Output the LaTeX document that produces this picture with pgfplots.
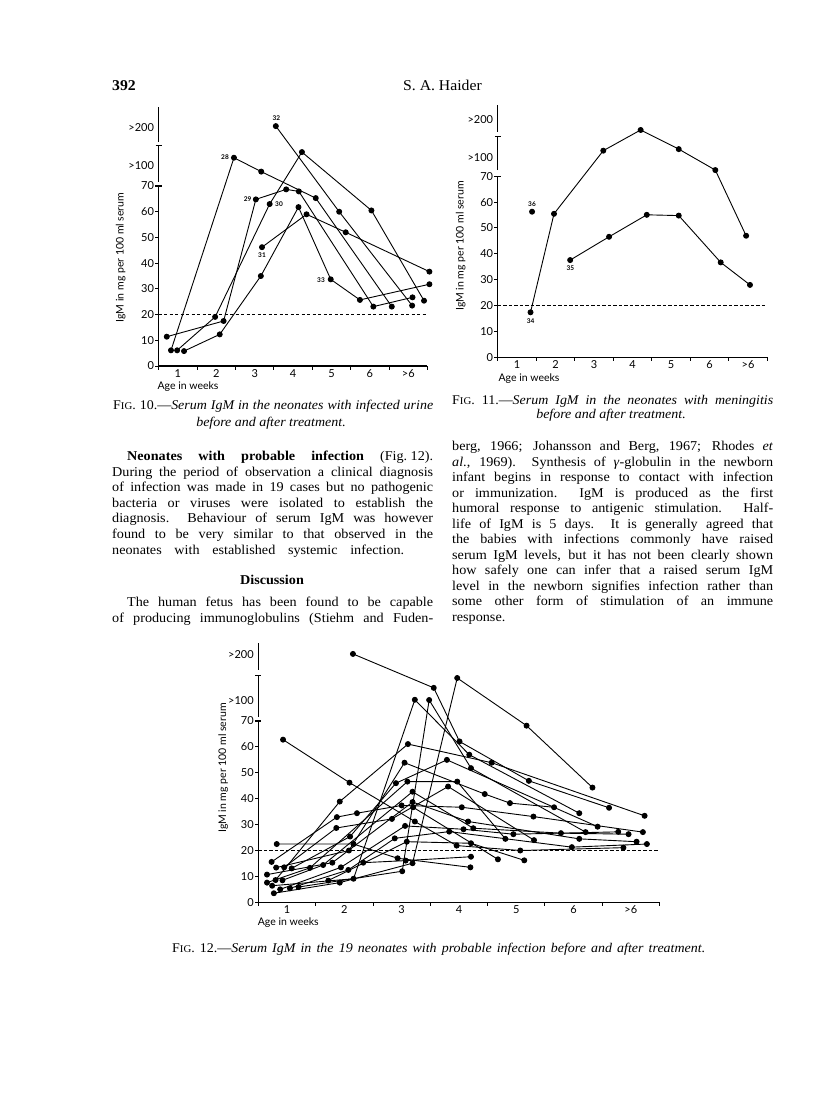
\documentclass[border=0pt]{standalone}
\usepackage{fontspec}
\setmainfont{Liberation Serif}[FakeStretch=1.05]
\newfontfamily\gill{Lato}
\usepackage{pgfplots}
\pgfplotsset{compat=1.18}
\newcommand\body{\fontsize{13.5}{15.5}\selectfont}
\newcommand\capf{\fontsize{13.3}{15}\selectfont}
\newcommand\FIGn[1]{F{\fontsize{10.3}{10}\selectfont IG}. #1.—}
\newcommand\jl[2]{\makebox[#1pt][s]{#2}}
\pgfplotsset{
 pt/.style={black, solid, line width=0.9pt, mark=*, mark size=2.5pt, mark options={solid, fill=black}},
 igm/.style={
  scale only axis, enlargelimits=false, clip=false,
  xmin=0.5, xmax=7.5, ymin=0, ymax=101,
  axis line style={draw=none}, tick style={draw=none}, major tick length=0pt,
  xtick={1,2,3,4,5,6,7}, xticklabels={1,2,3,4,5,6,{>6}},
  every tick label/.append style={font=\gill\fontsize{11}{11}\selectfont},
  yticklabel style={inner sep=1pt, xshift=-3.5pt},
  xticklabel style={inner sep=1pt, yshift=-2.5pt},
 }}
\newcommand\igmframe[4]{%
 \draw[line width=1.1pt] (axis cs:0.5,0) -- (axis cs:7.5,0);
 \draw[line width=1.3pt] (axis cs:0.5,0) -- (axis cs:0.5,70);
 \draw[line width=1.1pt] ([xshift=-3.5pt]axis cs:0.5,70) -- ([xshift=3pt]axis cs:0.5,70);
 \draw[line width=1.3pt] (axis cs:0.5,#1) -- (axis cs:0.5,#2);
 \draw[line width=1.1pt] ([xshift=-3pt]axis cs:0.5,#2) -- ([xshift=3pt]axis cs:0.5,#2);
 \draw[line width=1.3pt] (axis cs:0.5,#3) -- (axis cs:0.5,#4);
 \pgfplotsinvokeforeach{0,10,20,30,40,50,60}{\draw[line width=1pt] (axis cs:0.5,##1) -- ([xshift=-3.5pt]axis cs:0.5,##1);}
 \pgfplotsinvokeforeach{0.5,1.5,2.5,3.5,4.5,5.5,6.5,7.5}{\draw[line width=0.9pt] (axis cs:##1,0) -- ([yshift=-3.5pt]axis cs:##1,0);}
 \addplot[black, mark=none, line width=0.8pt, dash pattern=on 3.2pt off 2.3pt] coordinates {(0.5,20) (7.5,20)};
}
\begin{document}
\begin{tikzpicture}[x=1pt,y=1pt]
\path[use as bounding box, fill=white] (0,0) rectangle (816,-1117);
% header
\node[anchor=base west, inner sep=0pt, font=\fontsize{15}{15}\selectfont\bfseries] at (112,-90) {392};
\node[anchor=base, inner sep=0pt, font=\fontsize{15}{15}\selectfont] at (442.5,-90) {S. A. Haider};

% ---------------- Fig 10 ----------------
\begin{axis}[igm, at={(158.7pt,-366pt)}, anchor=south west, width=268.8pt, height=259.7pt,
  ytick={0,10,20,30,40,50,60,70,77.8,92.6},
  yticklabels={0,10,20,30,40,50,60,70,{>100},{>200}}]
\igmframe{71.7}{85.6}{87.2}{100.8}
% 28
\addplot[pt] coordinates {(0.82,6.1) (2.46,81.0) (3.17,75.6) (4.59,65.3) (6.57,23.1)};
% 29
\addplot[pt] coordinates {(0.71,11.4) (2.19,17.5) (3.03,64.8) (3.82,68.7) (4.15,67.9) (6.09,23.1) (7.11,26.7)};
% 30
\addplot[pt] coordinates {(0.98,6.1) (1.97,19.1) (3.39,63.0) (4.23,83.2) (6.04,60.5) (7.41,25.4)};
% 31
\addplot[pt] coordinates {(3.19,46.2) (4.35,59.0) (5.37,52.0) (7.55,36.7)};
% 32
\addplot[pt] coordinates {(3.55,93.3) (5.2,60.0) (7.1,23.5)};
% 33
\addplot[pt] coordinates {(1.16,5.8) (2.09,12.3) (3.16,35.0) (4.14,61.8) (4.98,33.7) (5.74,25.7) (7.55,31.8)};
\end{axis}
\begin{scope}[every node/.style={font=\gill\bfseries\fontsize{6.5}{7}\selectfont, inner sep=0pt}]
\node at (276.3,-117.7) {32};
\node at (225,-157.3) {28};
\node at (247.7,-199.3) {29};
\node at (279,-204.3) {30};
\node at (262,-255) {31};
\node at (321,-280) {33};
\end{scope}
\node[rotate=90, font=\gill\fontsize{10.5}{11}\selectfont] at (120.7,-257.5) {IgM in mg per 100 ml serum};
\node[font=\gill\fontsize{10.5}{11}\selectfont] at (188,-386.7) {Age in weeks};

% ---------------- Fig 11 ----------------
\begin{axis}[igm, at={(497.8pt,-357.3pt)}, anchor=south west, width=269.5pt, height=261.2pt,
  ytick={0,10,20,30,40,50,60,70,77.3,92.1},
  yticklabels={0,10,20,30,40,50,60,70,{>100},{>200}}]
\igmframe{72.4}{85.3}{87.2}{97.6}
% 34
\addplot[pt] coordinates {(1.35,17.4) (1.96,55.5) (3.24,79.9) (4.21,87.9) (5.2,80.5) (6.15,72.4) (6.95,47.0)};
% 35
\addplot[pt] coordinates {(2.38,37.6) (3.39,46.6) (4.37,55.1) (5.2,54.8) (6.29,36.7) (7.05,28.0)};
% 36
\addplot[pt] coordinates {(1.39,56.3)};
\end{axis}
\begin{scope}[every node/.style={font=\gill\bfseries\fontsize{6.5}{7}\selectfont, inner sep=0pt}]
\node at (532,-204) {36};
\node at (570.3,-268) {35};
\node at (530.7,-321) {34};
\end{scope}
\node[rotate=90, font=\gill\fontsize{10.5}{11}\selectfont] at (460.7,-246) {IgM in mg per 100 ml serum};
\node[font=\gill\fontsize{10.5}{11}\selectfont] at (529,-378.3) {Age in weeks};

% ---------------- Fig 12 ----------------
\begin{axis}[igm, at={(258.4pt,-902.3pt)}, anchor=south west, width=401.1pt, height=261.6pt,
  ytick={0,10,20,30,40,50,60,70,78.0,95.5},
  yticklabels={0,10,20,30,40,50,60,70,{>100},{>200}}]
\igmframe{71.7}{87.4}{89.7}{100.1}
\addplot[pt] coordinates {(0.93,62.8) (2.09,46.2) (3.23,31.2) (3.96,21.9) (5.07,20.0) (6.87,21.1)};
\addplot[pt] coordinates {(0.80,8.6) (1.92,38.9) (3.11,61.1) (4.57,53.9) (7.24,33.4)};
\addplot[pt] coordinates {(2.15,95.9) (3.56,82.8) (4.01,62.1) (5.22,46.9) (6.62,36.5)};
\addplot[pt] coordinates {(0.77,3.5) (1.92,7.6) (3.19,15.1) (3.97,86.6) (5.18,68.2) (6.33,44.3)};
\addplot[pt] coordinates {(0.74,6.4) (2.16,9.1) (3.23,78.2) (4.18,57.0) (6.1,34.4)};
\addplot[pt] coordinates {(1.2,5.9) (3.01,12.0) (3.48,78.1) (4.21,51.8) (6.21,27.1)};
\addplot[pt] coordinates {(0.73,15.6) (1.87,32.9) (2.22,34.4) (3.0,37.4) (4.05,36.7) (5.3,33.1) (7.21,27.1)};
\addplot[pt] coordinates {(0.82,22.5) (2.16,22.5) (2.93,17.0) (4.2,13.5)};
\addplot[pt] coordinates {(0.81,13.4) (2.08,20.0) (3.05,53.9) (4.45,41.8) (4.89,38.3) (5.66,36.7)};
\addplot[pt] coordinates {(0.95,13.5) (1.86,28.7) (2.83,32.2) (3.81,44.7) (5.31,24.0)};
\addplot[pt] coordinates {(1.08,13.1) (2.1,25.4) (2.9,46.0) (3.79,55.0) (6.42,29.2)};
\addplot[pt] coordinates {(0.65,7.6) (1.4,13.3) (3.1,46.6) (3.97,46.6) (4.81,24.5)};
\addplot[pt] coordinates {(0.92,8.5) (1.63,14.4) (3.19,42.7) (4.25,28.6) (5.78,26.7) (6.96,26.3)};
\addplot[pt] coordinates {(0.65,10.7) (1.79,15.3) (3.19,38.7) (4.16,31.2) (6.1,24.5) (7.1,23.4)};
\addplot[pt] coordinates {(0.88,5.0) (1.94,13.5) (3.06,29.5) (4.08,28.2) (4.95,26.3) (6.78,27.2)};
\addplot[pt] coordinates {(1.05,5.4) (2.07,12.5) (2.88,24.7) (3.83,27.3) (5.97,21.3) (7.28,22.5)};
\addplot[pt] coordinates {(1.72,8.4) (3.09,23.4) (4.21,22.8) (5.14,16.2)};
\addplot[pt] coordinates {(2.33,15.3) (3.07,16.1) (4.21,17.6)};
\addplot[pt] coordinates {(3.2,36.7) (4.68,16.6)};
\end{axis}
\node[rotate=90, font=\gill\fontsize{10.5}{11}\selectfont] at (223.3,-768) {IgM in mg per 100 ml serum};
\node[font=\gill\fontsize{10.5}{11}\selectfont] at (288.3,-922.7) {Age in weeks};

% ---------------- captions ----------------
\begin{scope}[every node/.style={inner sep=0pt}]
\node[anchor=base west] at (113,-409.5) {\capf\jl{320}{\FIGn{10}\textit{Serum IgM in the neonates with infected urine}}};
\node[anchor=base] at (271,-426) {\capf\textit{before and after treatment.}};
\node[anchor=base west] at (452,-404.5) {\capf\jl{321}{\FIGn{11}\textit{Serum IgM in the neonates with meningitis}}};
\node[anchor=base] at (611,-418) {\capf\textit{before and after treatment.}};
\node[anchor=base west] at (172,-952) {\capf\jl{533}{\FIGn{12}\textit{Serum IgM in the 19 neonates with probable infection before and after treatment.}}};

% ---------------- left column ----------------
\node[anchor=base west] at (127,-460.5) {\body\jl{306}{\textbf{Neonates with probable infection} (Fig.\hspace{3.5pt}12).}};
\node[anchor=base west] at (112,-476) {\body\jl{321}{During the period of observation a clinical diagnosis}};
\node[anchor=base west] at (112,-491.6) {\body\jl{321}{of infection was made in 19 cases but no pathogenic}};
\node[anchor=base west] at (112,-507.2) {\body\jl{321}{bacteria or viruses were isolated to establish the}};
\node[anchor=base west] at (112,-522.8) {\body\jl{321}{diagnosis.\ \ Behaviour of serum IgM was however}};
\node[anchor=base west] at (112,-538.4) {\body\jl{321}{found to be very similar to that observed in the}};
\node[anchor=base west] at (112,-554) {\body\jl{292}{neonates with established systemic infection.}};
\node[anchor=base] at (272,-584.5) {\body\textbf{Discussion}};
\node[anchor=base west] at (127,-606.5) {\body\jl{306}{The human fetus has been found to be capable}};
\node[anchor=base west] at (112,-622) {\body\jl{321}{of producing immunoglobulins (Stiehm and Fuden-}};

% ---------------- right column ----------------
\node[anchor=base west] at (452,-450.5) {\body\jl{321}{berg, 1966; Johansson and Berg, 1967; Rhodes \textit{et}}};
\node[anchor=base west] at (452,-466) {\body\jl{321}{\textit{al}., 1969).\ \ Synthesis of \textit{γ}-globulin in the newborn}};
\node[anchor=base west] at (452,-481.5) {\body\jl{321}{infant begins in response to contact with infection}};
\node[anchor=base west] at (452,-497) {\body\jl{321}{or immunization.\ \ IgM is produced as the first}};
\node[anchor=base west] at (452,-512.5) {\body\jl{321}{humoral response to antigenic stimulation.\ \ Half-}};
\node[anchor=base west] at (452,-528) {\body\jl{321}{life of IgM is 5 days.\ \ It is generally agreed that}};
\node[anchor=base west] at (452,-543.5) {\body\jl{321}{the babies with infections commonly have raised}};
\node[anchor=base west] at (452,-559) {\body\jl{321}{serum IgM levels, but it has not been clearly shown}};
\node[anchor=base west] at (452,-574.5) {\body\jl{321}{how safely one can infer that a raised serum IgM}};
\node[anchor=base west] at (452,-590) {\body\jl{321}{level in the newborn signifies infection rather than}};
\node[anchor=base west] at (452,-605.5) {\body\jl{321}{some other form of stimulation of an immune}};
\node[anchor=base west] at (452,-621) {\body response.};
\end{scope}
\end{tikzpicture}
\end{document}
